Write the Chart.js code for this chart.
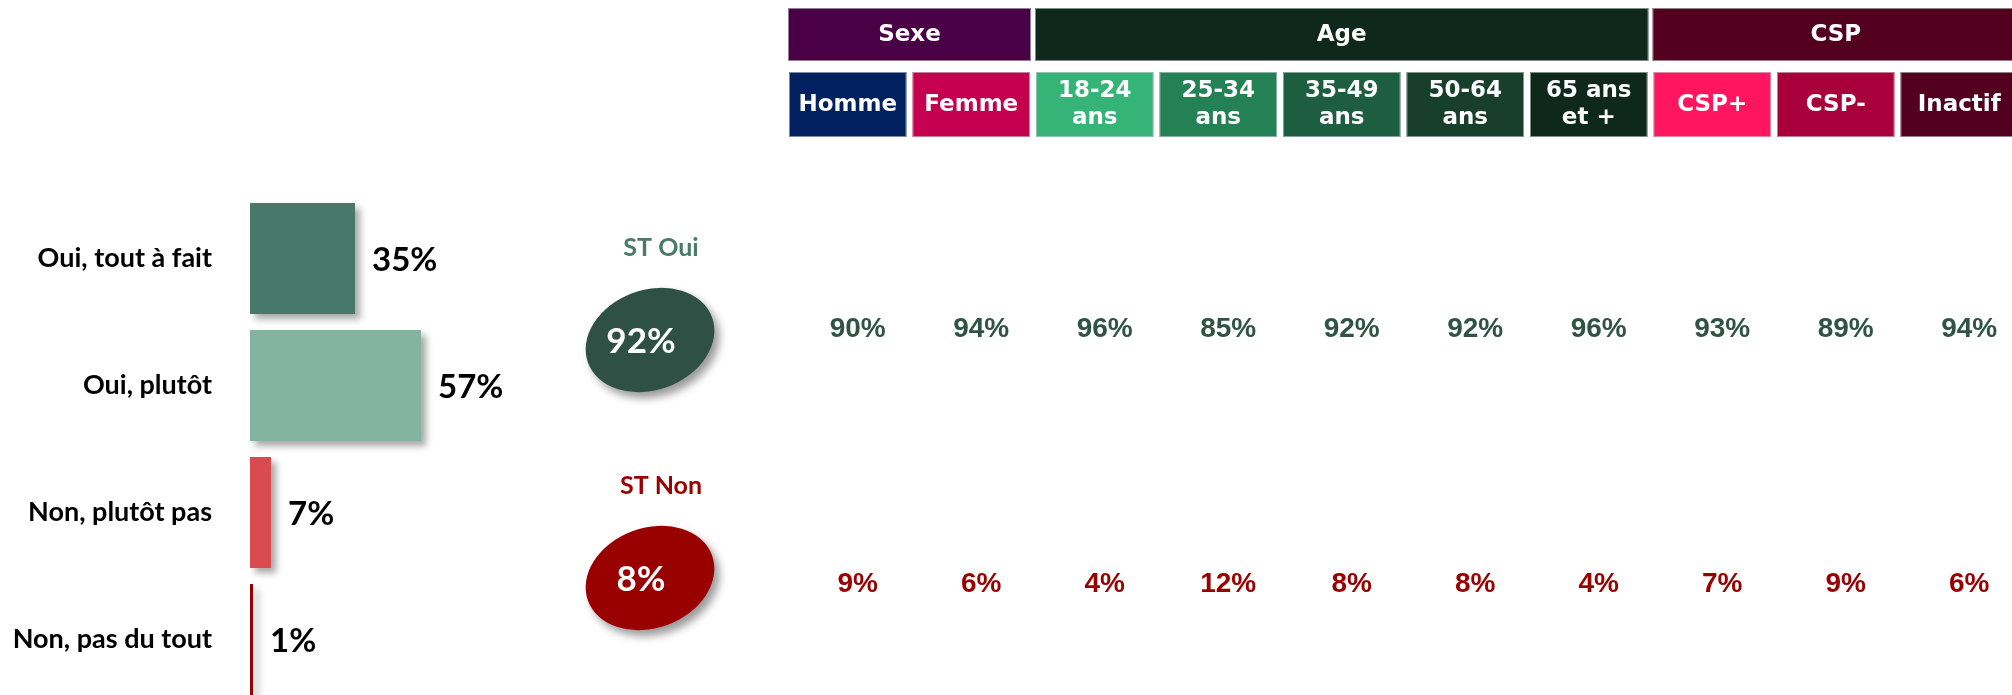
<!DOCTYPE html>
<html>
<head>
<meta charset="utf-8">
<script src="https://cdn.jsdelivr.net/npm/chart.js@4.4.0/dist/chart.umd.min.js"></script>
<style>
  html, body { margin: 0; padding: 0; background: #fff; overflow: hidden; width: 2012px; height: 695px; }
  .box { position: absolute; top: 0; height: 710px; }
</style>
</head>
<body>
<div class="box" style="left:0;width:550px"><canvas id="barChart"></canvas></div>
<div class="box" style="left:550px;width:220px"><canvas id="stChart"></canvas></div>
<div class="box" style="left:770px;width:1252px"><canvas id="groupChart"></canvas></div>
<script>
// réponses globales
const answers = ['Oui, tout à fait', 'Oui, plutôt', 'Non, plutôt pas', 'Non, pas du tout'];
const answerValues = [35, 57, 7, 1];
const answerColors = ['#48786A', '#82B4A0', '#D94B4E', '#990000'];

// sous-totaux
const totalLabels = ['ST Oui', 'ST Non'];
const totalValues = [92, 8];
const totalColors = ['#2E5045', '#990000'];
const totalTitleColors = ['#4A7A68', '#990000'];

// détail par cible
const groups = ['Sexe', 'Age', 'CSP'];
const groupSizes = [2, 5, 3];
const groupColors = ['#4A0044', '#0E281B', '#52001E'];
const subgroups = [['Homme'], ['Femme'], ['18-24', 'ans'], ['25-34', 'ans'], ['35-49', 'ans'],
  ['50-64', 'ans'], ['65 ans', 'et +'], ['CSP+'], ['CSP-'], ['Inactif']];
const subgroupColors = ['#00205F', '#C5004E', '#36B478', '#248055', '#1D5E40',
  '#173F2C', '#0E281B', '#FF1560', '#A8003A', '#52001E'];
const ouiBySubgroup = [90, 94, 96, 85, 92, 92, 96, 93, 89, 94];
const nonBySubgroup = [9, 6, 4, 12, 8, 8, 4, 7, 9, 6];
const rows = ['ST Oui', 'ST Non'];
const rowColors = ['#2F5446', '#990000'];

Chart.defaults.animation = false;
Chart.defaults.plugins.legend.display = false;
Chart.defaults.plugins.tooltip.enabled = false;

// ombre portée sous les barres
const shadowPlugin = {
  id: 'shadow',
  beforeDatasetsDraw(chart) {
    const c = chart.ctx;
    c.save();
    c.shadowColor = 'rgba(0,0,0,0.35)';
    c.shadowBlur = 7;
    c.shadowOffsetX = 5;
    c.shadowOffsetY = 5;
  },
  afterDatasetsDraw(chart) {
    chart.ctx.restore();
  }
};

const barLabelPlugin = {
  id: 'barLabels',
  afterDatasetsDraw(chart) {
    const c = chart.ctx;
    c.save();
    c.font = 'bold 33px Lato';
    c.fillStyle = '#000';
    c.textAlign = 'left';
    c.textBaseline = 'middle';
    chart.getDatasetMeta(0).data.forEach((bar, i) => {
      c.fillText(answerValues[i] + '%', bar.x + 17, bar.y + 2);
    });
    c.restore();
  }
};

new Chart(document.getElementById('barChart'), {
  type: 'bar',
  data: {
    labels: answers,
    datasets: [{
      data: answerValues,
      backgroundColor: answerColors,
      barPercentage: 0.874,
      categoryPercentage: 1
    }]
  },
  options: {
    indexAxis: 'y',
    responsive: true,
    maintainAspectRatio: false,
    layout: { padding: { top: 195, bottom: 7 } },
    scales: {
      x: { display: false, min: 0, max: 100 },
      y: {
        grid: { display: false, drawTicks: false },
        border: { display: false },
        ticks: { padding: 38, color: '#000', font: { family: 'Lato', weight: 'bold', size: 27 } },
        afterFit: (s) => {
          s.width = 250;
          s.paddingTop = 0;
          s.paddingBottom = 0;
        }
      }
    }
  },
  plugins: [shadowPlugin, barLabelPlugin]
});

// ellipses ST Oui / ST Non
const ellipsePlugin = {
  id: 'ellipses',
  afterDatasetsDraw(chart) {
    const c = chart.ctx;
    chart.getDatasetMeta(0).data.forEach((pt, i) => {
      c.save();
      c.shadowColor = 'rgba(0,0,0,0.4)';
      c.shadowBlur = 8;
      c.shadowOffsetX = 5;
      c.shadowOffsetY = 6;
      c.fillStyle = totalColors[i];
      c.beginPath();
      c.ellipse(pt.x, pt.y, 66, 50, -0.35, 0, Math.PI * 2);
      c.fill();
      c.restore();

      c.save();
      c.textAlign = 'center';
      c.textBaseline = 'alphabetic';
      c.fillStyle = '#fff';
      c.font = 'bold 35px Lato';
      c.fillText(totalValues[i] + '%', pt.x - 9, pt.y + 13);
      c.fillStyle = totalTitleColors[i];
      c.font = 'bold 25px Lato';
      c.fillText(totalLabels[i], pt.x + 11, pt.y - 84);
      c.restore();
    });
  }
};

new Chart(document.getElementById('stChart'), {
  type: 'scatter',
  data: {
    datasets: [{
      data: totalLabels.map((l) => ({ x: 0, y: l })),
      pointRadius: 0
    }]
  },
  options: {
    responsive: true,
    maintainAspectRatio: false,
    layout: { padding: { top: 221, bottom: 13, right: 20 } },
    scales: {
      x: { type: 'linear', display: false, min: -1, max: 1 },
      y: { type: 'category', labels: totalLabels, offset: true, display: false }
    }
  },
  plugins: [ellipsePlugin]
});

// en-têtes et valeurs par cible
const headerPlugin = {
  id: 'header',
  afterDraw(chart) {
    const c = chart.ctx;
    const xs = chart.scales.x;
    const step = xs.getPixelForValue(1) - xs.getPixelForValue(0);
    c.save();
    c.textAlign = 'center';
    c.textBaseline = 'middle';
    let first = 0;
    groups.forEach((g, gi) => {
      const last = first + groupSizes[gi] - 1;
      const x0 = xs.getPixelForValue(first) - step / 2 + 2;
      const x1 = xs.getPixelForValue(last) + step / 2 - 2;
      c.fillStyle = groupColors[gi];
      c.fillRect(x0, 8, x1 - x0, 53);
      c.strokeStyle = 'rgba(200,210,205,0.6)';
      c.lineWidth = 1;
      c.strokeRect(x0 + 0.5, 8.5, x1 - x0 - 1, 52);
      c.fillStyle = '#fff';
      c.font = 'bold 23px "DejaVu Sans"';
      c.fillText(g, (x0 + x1) / 2, 35);
      first = last + 1;
    });
    subgroups.forEach((lines, i) => {
      const cx = xs.getPixelForValue(i);
      const w = step - 6;
      c.fillStyle = subgroupColors[i];
      c.fillRect(cx - w / 2, 72, w, 65);
      c.strokeStyle = 'rgba(200,210,205,0.6)';
      c.strokeRect(cx - w / 2 + 0.5, 72.5, w - 1, 64);
      c.fillStyle = '#fff';
      c.font = 'bold 23px "DejaVu Sans"';
      const lh = 27;
      lines.forEach((t, k) => {
        c.fillText(t, cx, 105 + (k - (lines.length - 1) / 2) * lh);
      });
    });
    c.restore();
  },
  afterDatasetsDraw(chart) {
    const c = chart.ctx;
    c.save();
    c.textAlign = 'center';
    c.textBaseline = 'alphabetic';
    c.font = 'bold 28px "Liberation Sans"';
    [ouiBySubgroup, nonBySubgroup].forEach((vals, di) => {
      c.fillStyle = rowColors[di];
      chart.getDatasetMeta(di).data.forEach((pt, i) => {
        c.fillText(vals[i] + '%', pt.x + 10, pt.y + 10);
      });
    });
    c.restore();
  }
};

new Chart(document.getElementById('groupChart'), {
  type: 'line',
  data: {
    labels: subgroups,
    datasets: [
      { data: ouiBySubgroup.map(() => rows[0]), showLine: false, pointRadius: 0 },
      { data: nonBySubgroup.map(() => rows[1]), showLine: false, pointRadius: 0 }
    ]
  },
  options: {
    responsive: true,
    maintainAspectRatio: false,
    layout: { padding: { top: 199.5, bottom: 0.5, left: 16, right: 1 } },
    scales: {
      x: { type: 'category', offset: true, display: false },
      y: { type: 'category', labels: rows, offset: true, display: false }
    }
  },
  plugins: [headerPlugin]
});
</script>
</body>
</html>
